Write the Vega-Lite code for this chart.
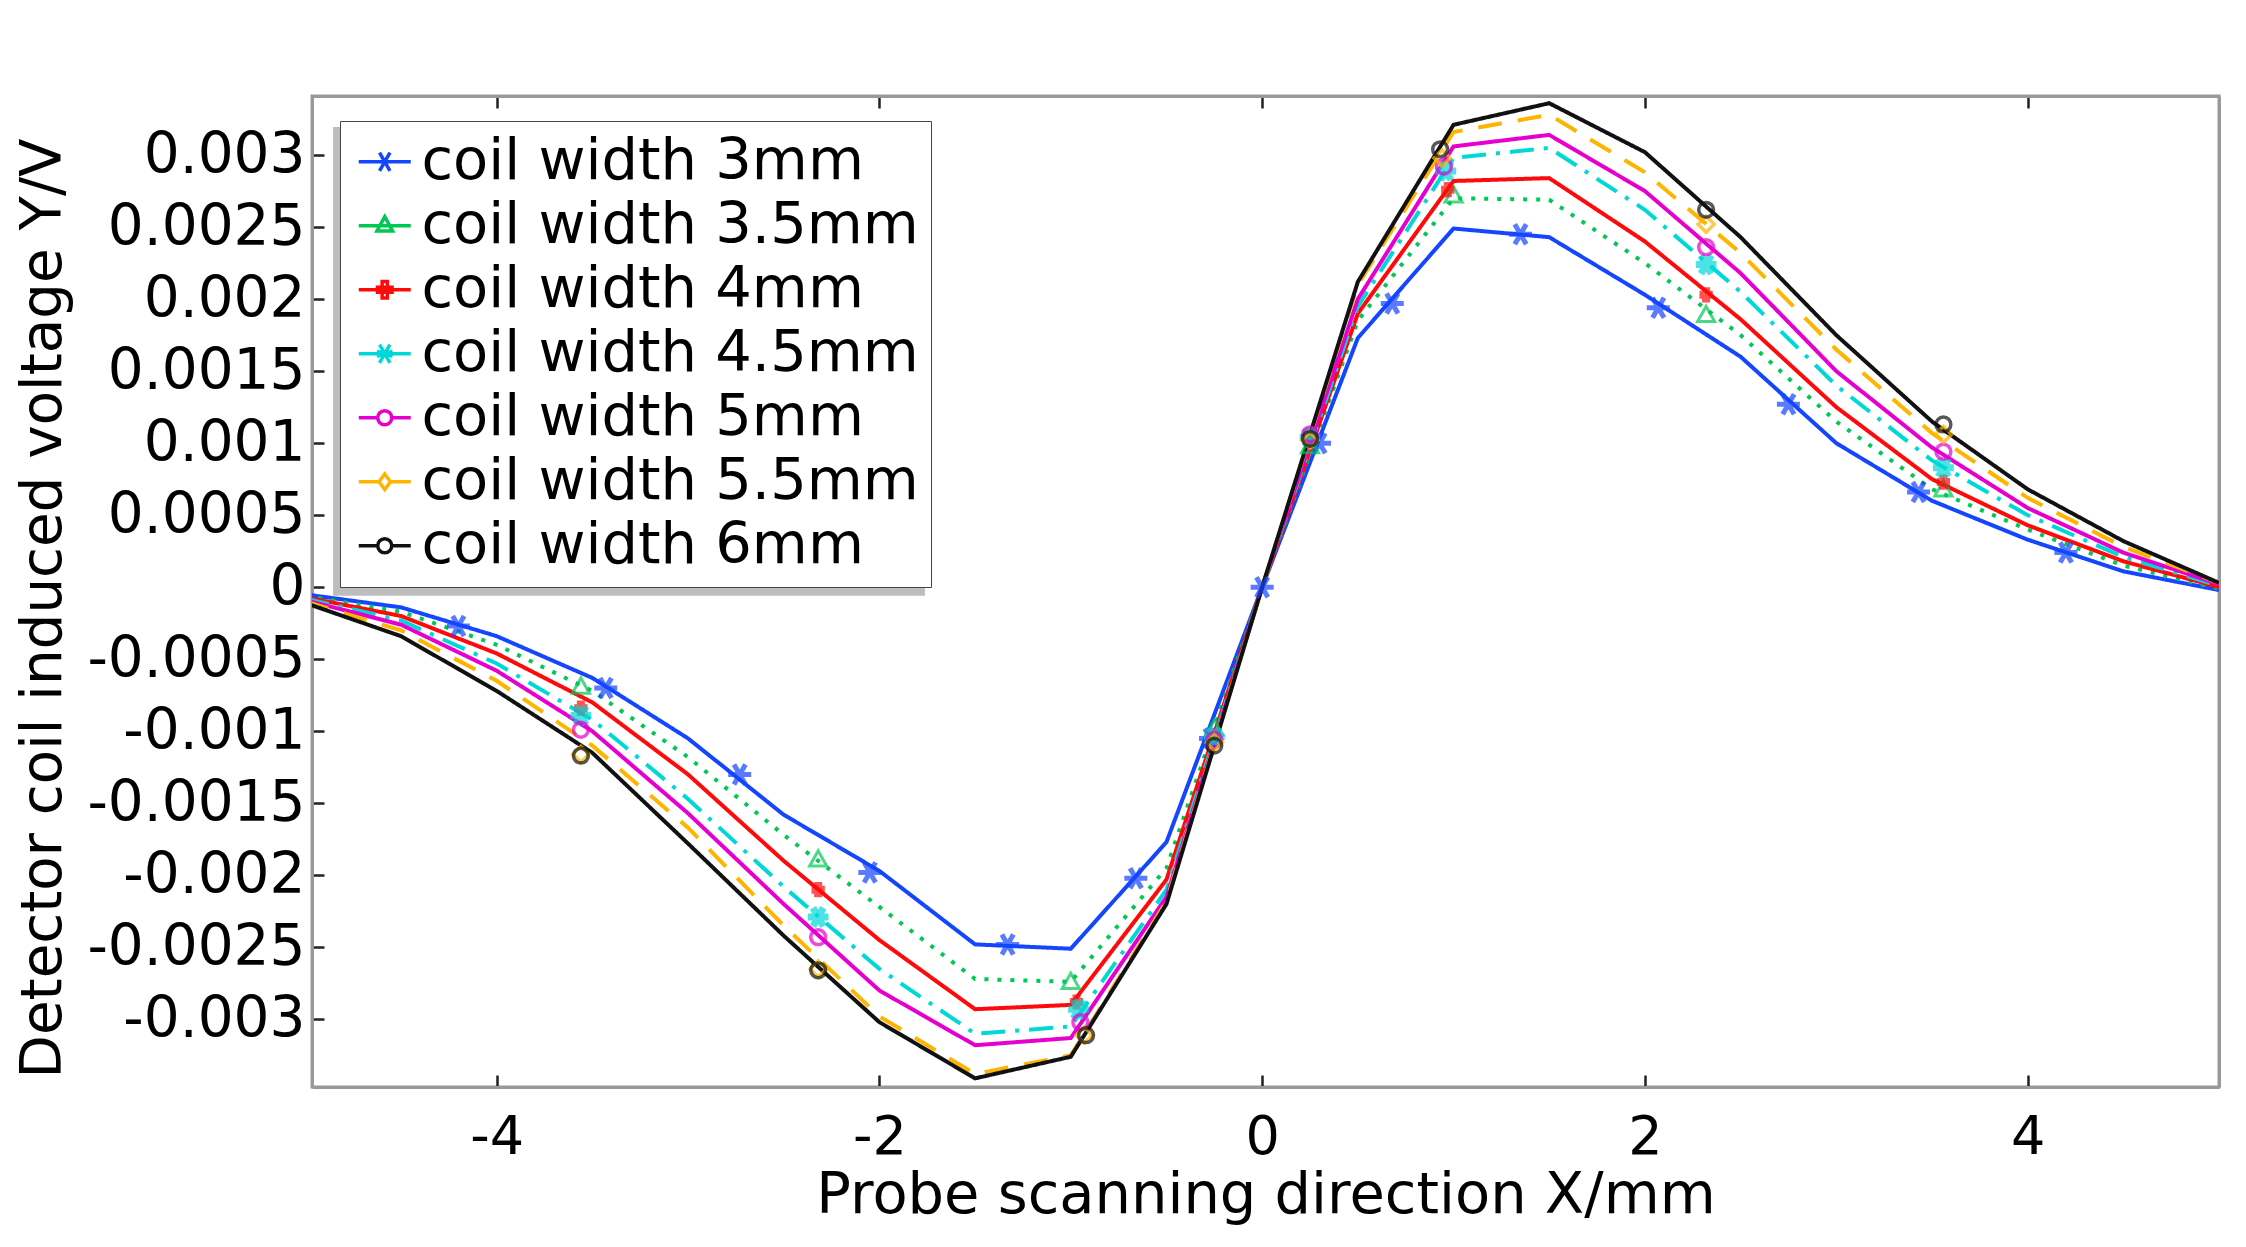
{"$schema":"https://vega.github.io/schema/vega-lite/v6.json","width":1907,"height":991,"autosize":{"type":"none"},"padding":{"left":312,"top":96,"right":27,"bottom":160},"background":"white","config":{"font":"DejaVu Sans","view":{"stroke":"#999999","strokeWidth":3}},"datasets":{"shadow":[{"x0":-4.855,"x1":-1.762,"y0":-0.00006,"y1":0.003195}],"lines":[
{"x":-5,"y":-0.00005,"s":"coil width 3mm"},{"x":-4.5,"y":-0.00014,"s":"coil width 3mm"},{"x":-4,"y":-0.00034,"s":"coil width 3mm"},{"x":-3.5,"y":-0.00063,"s":"coil width 3mm"},{"x":-3,"y":-0.00105,"s":"coil width 3mm"},{"x":-2.5,"y":-0.00158,"s":"coil width 3mm"},{"x":-2,"y":-0.00197,"s":"coil width 3mm"},{"x":-1.5,"y":-0.00248,"s":"coil width 3mm"},{"x":-1,"y":-0.00251,"s":"coil width 3mm"},{"x":-0.5,"y":-0.00177,"s":"coil width 3mm"},{"x":0,"y":0,"s":"coil width 3mm"},{"x":0.5,"y":0.00173,"s":"coil width 3mm"},{"x":1,"y":0.00249,"s":"coil width 3mm"},{"x":1.5,"y":0.00243,"s":"coil width 3mm"},{"x":2,"y":0.00203,"s":"coil width 3mm"},{"x":2.5,"y":0.0016,"s":"coil width 3mm"},{"x":3,"y":0.001,"s":"coil width 3mm"},{"x":3.5,"y":0.0006,"s":"coil width 3mm"},{"x":4,"y":0.00033,"s":"coil width 3mm"},{"x":4.5,"y":0.00011,"s":"coil width 3mm"},{"x":5,"y":-0.00002,"s":"coil width 3mm"},
{"x":-5,"y":-0.00006,"s":"coil width 3.5mm"},{"x":-4.5,"y":-0.00017,"s":"coil width 3.5mm"},{"x":-4,"y":-0.0004,"s":"coil width 3.5mm"},{"x":-3.5,"y":-0.00072,"s":"coil width 3.5mm"},{"x":-3,"y":-0.00118,"s":"coil width 3.5mm"},{"x":-2.5,"y":-0.00172,"s":"coil width 3.5mm"},{"x":-2,"y":-0.00222,"s":"coil width 3.5mm"},{"x":-1.5,"y":-0.00272,"s":"coil width 3.5mm"},{"x":-1,"y":-0.00274,"s":"coil width 3.5mm"},{"x":-0.5,"y":-0.00195,"s":"coil width 3.5mm"},{"x":0,"y":0,"s":"coil width 3.5mm"},{"x":0.5,"y":0.00185,"s":"coil width 3.5mm"},{"x":1,"y":0.0027,"s":"coil width 3.5mm"},{"x":1.5,"y":0.00269,"s":"coil width 3.5mm"},{"x":2,"y":0.00225,"s":"coil width 3.5mm"},{"x":2.5,"y":0.00175,"s":"coil width 3.5mm"},{"x":3,"y":0.00115,"s":"coil width 3.5mm"},{"x":3.5,"y":0.00068,"s":"coil width 3.5mm"},{"x":4,"y":0.0004,"s":"coil width 3.5mm"},{"x":4.5,"y":0.00015,"s":"coil width 3.5mm"},{"x":5,"y":-0.00001,"s":"coil width 3.5mm"},
{"x":-5,"y":-0.00007,"s":"coil width 4mm"},{"x":-4.5,"y":-0.0002,"s":"coil width 4mm"},{"x":-4,"y":-0.00046,"s":"coil width 4mm"},{"x":-3.5,"y":-0.0008,"s":"coil width 4mm"},{"x":-3,"y":-0.0013,"s":"coil width 4mm"},{"x":-2.5,"y":-0.0019,"s":"coil width 4mm"},{"x":-2,"y":-0.00245,"s":"coil width 4mm"},{"x":-1.5,"y":-0.00293,"s":"coil width 4mm"},{"x":-1,"y":-0.0029,"s":"coil width 4mm"},{"x":-0.5,"y":-0.00203,"s":"coil width 4mm"},{"x":0,"y":0,"s":"coil width 4mm"},{"x":0.5,"y":0.0019,"s":"coil width 4mm"},{"x":1,"y":0.00282,"s":"coil width 4mm"},{"x":1.5,"y":0.00284,"s":"coil width 4mm"},{"x":2,"y":0.0024,"s":"coil width 4mm"},{"x":2.5,"y":0.00186,"s":"coil width 4mm"},{"x":3,"y":0.00125,"s":"coil width 4mm"},{"x":3.5,"y":0.00075,"s":"coil width 4mm"},{"x":4,"y":0.00043,"s":"coil width 4mm"},{"x":4.5,"y":0.00018,"s":"coil width 4mm"},{"x":5,"y":0,"s":"coil width 4mm"},
{"x":-5,"y":-0.00008,"s":"coil width 4.5mm"},{"x":-4.5,"y":-0.00023,"s":"coil width 4.5mm"},{"x":-4,"y":-0.00053,"s":"coil width 4.5mm"},{"x":-3.5,"y":-0.00092,"s":"coil width 4.5mm"},{"x":-3,"y":-0.00147,"s":"coil width 4.5mm"},{"x":-2.5,"y":-0.00208,"s":"coil width 4.5mm"},{"x":-2,"y":-0.00265,"s":"coil width 4.5mm"},{"x":-1.5,"y":-0.0031,"s":"coil width 4.5mm"},{"x":-1,"y":-0.00305,"s":"coil width 4.5mm"},{"x":-0.5,"y":-0.0021,"s":"coil width 4.5mm"},{"x":0,"y":0,"s":"coil width 4.5mm"},{"x":0.5,"y":0.00195,"s":"coil width 4.5mm"},{"x":1,"y":0.00298,"s":"coil width 4.5mm"},{"x":1.5,"y":0.00305,"s":"coil width 4.5mm"},{"x":2,"y":0.00262,"s":"coil width 4.5mm"},{"x":2.5,"y":0.00205,"s":"coil width 4.5mm"},{"x":3,"y":0.0014,"s":"coil width 4.5mm"},{"x":3.5,"y":0.00088,"s":"coil width 4.5mm"},{"x":4,"y":0.0005,"s":"coil width 4.5mm"},{"x":4.5,"y":0.00021,"s":"coil width 4.5mm"},{"x":5,"y":0.00001,"s":"coil width 4.5mm"},
{"x":-5,"y":-0.00009,"s":"coil width 5mm"},{"x":-4.5,"y":-0.00026,"s":"coil width 5mm"},{"x":-4,"y":-0.00058,"s":"coil width 5mm"},{"x":-3.5,"y":-0.001,"s":"coil width 5mm"},{"x":-3,"y":-0.00157,"s":"coil width 5mm"},{"x":-2.5,"y":-0.0022,"s":"coil width 5mm"},{"x":-2,"y":-0.0028,"s":"coil width 5mm"},{"x":-1.5,"y":-0.00318,"s":"coil width 5mm"},{"x":-1,"y":-0.00313,"s":"coil width 5mm"},{"x":-0.5,"y":-0.00215,"s":"coil width 5mm"},{"x":0,"y":0,"s":"coil width 5mm"},{"x":0.5,"y":0.002,"s":"coil width 5mm"},{"x":1,"y":0.00306,"s":"coil width 5mm"},{"x":1.5,"y":0.00314,"s":"coil width 5mm"},{"x":2,"y":0.00275,"s":"coil width 5mm"},{"x":2.5,"y":0.00218,"s":"coil width 5mm"},{"x":3,"y":0.0015,"s":"coil width 5mm"},{"x":3.5,"y":0.00097,"s":"coil width 5mm"},{"x":4,"y":0.00055,"s":"coil width 5mm"},{"x":4.5,"y":0.00024,"s":"coil width 5mm"},{"x":5,"y":0.00002,"s":"coil width 5mm"},
{"x":-5,"y":-0.0001,"s":"coil width 5.5mm"},{"x":-4.5,"y":-0.0003,"s":"coil width 5.5mm"},{"x":-4,"y":-0.00065,"s":"coil width 5.5mm"},{"x":-3.5,"y":-0.0011,"s":"coil width 5.5mm"},{"x":-3,"y":-0.00167,"s":"coil width 5.5mm"},{"x":-2.5,"y":-0.00235,"s":"coil width 5.5mm"},{"x":-2,"y":-0.00298,"s":"coil width 5.5mm"},{"x":-1.5,"y":-0.00338,"s":"coil width 5.5mm"},{"x":-1,"y":-0.00325,"s":"coil width 5.5mm"},{"x":-0.5,"y":-0.00218,"s":"coil width 5.5mm"},{"x":0,"y":0,"s":"coil width 5.5mm"},{"x":0.5,"y":0.0021,"s":"coil width 5.5mm"},{"x":1,"y":0.00316,"s":"coil width 5.5mm"},{"x":1.5,"y":0.00328,"s":"coil width 5.5mm"},{"x":2,"y":0.00288,"s":"coil width 5.5mm"},{"x":2.5,"y":0.00232,"s":"coil width 5.5mm"},{"x":3,"y":0.00165,"s":"coil width 5.5mm"},{"x":3.5,"y":0.00107,"s":"coil width 5.5mm"},{"x":4,"y":0.00062,"s":"coil width 5.5mm"},{"x":4.5,"y":0.00028,"s":"coil width 5.5mm"},{"x":5,"y":0.00003,"s":"coil width 5.5mm"},
{"x":-5,"y":-0.00011,"s":"coil width 6mm"},{"x":-4.5,"y":-0.00034,"s":"coil width 6mm"},{"x":-4,"y":-0.00072,"s":"coil width 6mm"},{"x":-3.5,"y":-0.00115,"s":"coil width 6mm"},{"x":-3,"y":-0.00178,"s":"coil width 6mm"},{"x":-2.5,"y":-0.00242,"s":"coil width 6mm"},{"x":-2,"y":-0.00302,"s":"coil width 6mm"},{"x":-1.5,"y":-0.00341,"s":"coil width 6mm"},{"x":-1,"y":-0.00326,"s":"coil width 6mm"},{"x":-0.5,"y":-0.0022,"s":"coil width 6mm"},{"x":0,"y":0,"s":"coil width 6mm"},{"x":0.5,"y":0.00212,"s":"coil width 6mm"},{"x":1,"y":0.00321,"s":"coil width 6mm"},{"x":1.5,"y":0.00336,"s":"coil width 6mm"},{"x":2,"y":0.00302,"s":"coil width 6mm"},{"x":2.5,"y":0.00243,"s":"coil width 6mm"},{"x":3,"y":0.00175,"s":"coil width 6mm"},{"x":3.5,"y":0.00115,"s":"coil width 6mm"},{"x":4,"y":0.00068,"s":"coil width 6mm"},{"x":4.5,"y":0.00032,"s":"coil width 6mm"},{"x":5,"y":0.00003,"s":"coil width 6mm"}
],"marks":[
{"x":-4.2,"y":-0.00027,"s":"coil width 3mm"},{"x":-3.43,"y":-0.0007,"s":"coil width 3mm"},{"x":-2.73,"y":-0.0013,"s":"coil width 3mm"},{"x":-2.05,"y":-0.00198,"s":"coil width 3mm"},{"x":-1.33,"y":-0.00248,"s":"coil width 3mm"},{"x":-0.66,"y":-0.00202,"s":"coil width 3mm"},{"x":-0.27,"y":-0.00105,"s":"coil width 3mm"},{"x":0,"y":0,"s":"coil width 3mm"},{"x":0.3,"y":0.001,"s":"coil width 3mm"},{"x":0.68,"y":0.00197,"s":"coil width 3mm"},{"x":1.35,"y":0.00245,"s":"coil width 3mm"},{"x":2.07,"y":0.00194,"s":"coil width 3mm"},{"x":2.75,"y":0.00127,"s":"coil width 3mm"},{"x":3.43,"y":0.00066,"s":"coil width 3mm"},{"x":4.2,"y":0.00024,"s":"coil width 3mm"},
{"x":-3.56,"y":-0.00069,"s":"coil width 3.5mm"},{"x":-2.32,"y":-0.00189,"s":"coil width 3.5mm"},{"x":-1,"y":-0.00274,"s":"coil width 3.5mm"},{"x":-0.25,"y":-0.00098,"s":"coil width 3.5mm"},{"x":0.25,"y":0.00098,"s":"coil width 3.5mm"},{"x":1,"y":0.00272,"s":"coil width 3.5mm"},{"x":2.32,"y":0.00189,"s":"coil width 3.5mm"},{"x":3.56,"y":0.00068,"s":"coil width 3.5mm"},
{"x":-3.56,"y":-0.00084,"s":"coil width 4mm"},{"x":-2.32,"y":-0.0021,"s":"coil width 4mm"},{"x":-0.97,"y":-0.00288,"s":"coil width 4mm"},{"x":-0.25,"y":-0.00103,"s":"coil width 4mm"},{"x":0.25,"y":0.00103,"s":"coil width 4mm"},{"x":0.97,"y":0.00276,"s":"coil width 4mm"},{"x":2.32,"y":0.00203,"s":"coil width 4mm"},{"x":3.56,"y":0.00073,"s":"coil width 4mm"},
{"x":-3.56,"y":-0.00089,"s":"coil width 4.5mm"},{"x":-2.32,"y":-0.00229,"s":"coil width 4.5mm"},{"x":-0.96,"y":-0.00293,"s":"coil width 4.5mm"},{"x":-0.25,"y":-0.00104,"s":"coil width 4.5mm"},{"x":0.25,"y":0.00104,"s":"coil width 4.5mm"},{"x":0.96,"y":0.00289,"s":"coil width 4.5mm"},{"x":2.32,"y":0.00224,"s":"coil width 4.5mm"},{"x":3.56,"y":0.00083,"s":"coil width 4.5mm"},
{"x":-3.56,"y":-0.00099,"s":"coil width 5mm"},{"x":-2.32,"y":-0.00243,"s":"coil width 5mm"},{"x":-0.95,"y":-0.00302,"s":"coil width 5mm"},{"x":-0.25,"y":-0.00106,"s":"coil width 5mm"},{"x":0.25,"y":0.00106,"s":"coil width 5mm"},{"x":0.95,"y":0.00292,"s":"coil width 5mm"},{"x":2.32,"y":0.00236,"s":"coil width 5mm"},{"x":3.56,"y":0.00094,"s":"coil width 5mm"},
{"x":-3.56,"y":-0.00116,"s":"coil width 5.5mm"},{"x":-2.32,"y":-0.00265,"s":"coil width 5.5mm"},{"x":-0.93,"y":-0.00311,"s":"coil width 5.5mm"},{"x":-0.25,"y":-0.00108,"s":"coil width 5.5mm"},{"x":0.25,"y":0.00102,"s":"coil width 5.5mm"},{"x":0.94,"y":0.00298,"s":"coil width 5.5mm"},{"x":2.32,"y":0.00252,"s":"coil width 5.5mm"},{"x":3.56,"y":0.00106,"s":"coil width 5.5mm"},
{"x":-3.56,"y":-0.00117,"s":"coil width 6mm"},{"x":-2.32,"y":-0.00266,"s":"coil width 6mm"},{"x":-0.92,"y":-0.00311,"s":"coil width 6mm"},{"x":-0.25,"y":-0.0011,"s":"coil width 6mm"},{"x":0.25,"y":0.00103,"s":"coil width 6mm"},{"x":0.93,"y":0.00304,"s":"coil width 6mm"},{"x":2.32,"y":0.00262,"s":"coil width 6mm"},{"x":3.56,"y":0.00113,"s":"coil width 6mm"}
]},
"layer":[
{"data":{"name":"lines"},"mark":{"type":"line","strokeWidth":4,"clip":true},"encoding":{
"x":{"field":"x","type":"quantitative","scale":{"domain":[-4.965,5],"nice":false,"zero":false},"axis":{"values":[-4,-2,0,2,4],"labelExpr":"toString(datum.value)","grid":false,"tickSize":-12,"tickColor":"#222222","tickWidth":2.5,"domainColor":"#999999","domainWidth":3,"labelFontSize":54,"labelColor":"#000000","labelPadding":35,"labelLimit":400,"title":"Probe scanning direction X/mm","titleFontSize":57.5,"titleFontWeight":"normal","titleColor":"#000000","titlePadding":3}},
"y":{"field":"y","type":"quantitative","scale":{"domain":[-0.00347,0.00341],"nice":false,"zero":false},"axis":{"values":[-0.003,-0.0025,-0.002,-0.0015,-0.001,-0.0005,0,0.0005,0.001,0.0015,0.002,0.0025,0.003],"labelExpr":"toString(datum.value)","grid":false,"tickSize":-12,"tickColor":"#222222","tickWidth":2.5,"domainColor":"#999999","domainWidth":3,"labelFontSize":56.5,"labelColor":"#000000","labelPadding":19,"labelLimit":400,"title":"Detector coil induced voltage Y/V","titleFontSize":56.3,"titleFontWeight":"normal","titleColor":"#000000","titleX":-269,"titleY":512,"titleBaseline":"middle"}},
"color":{"field":"s","type":"nominal","legend":null,"scale":{"domain":["coil width 3mm","coil width 3.5mm","coil width 4mm","coil width 4.5mm","coil width 5mm","coil width 5.5mm","coil width 6mm"],"range":["#1446ff","#00c853","#ff0a0a","#00d8d8","#e600d0","#ffb400","#111111"]}},
"strokeDash":{"field":"s","type":"nominal","legend":null,"sort":null,"scale":{"domain":["coil width 3mm","coil width 3.5mm","coil width 4mm","coil width 4.5mm","coil width 5mm","coil width 5.5mm","coil width 6mm"],"range":[[1,0],[4,9],[1,0],[24,10,4,10],[1,0],[24,16],[1,0]]}}}},
{"data":{"name":"marks"},"mark":{"type":"point","filled":false,"clip":true},"encoding":{
"x":{"field":"x","type":"quantitative","axis":null},"y":{"field":"y","type":"quantitative","axis":null},
"size":{"field":"s","type":"nominal","legend":null,"scale":{"type":"ordinal","domain":["coil width 3mm","coil width 3.5mm","coil width 4mm","coil width 4.5mm","coil width 5mm","coil width 5.5mm","coil width 6mm"],"range":[529,361,361,529,220,260,220]}},
"strokeWidth":{"field":"s","type":"nominal","legend":null,"scale":{"type":"ordinal","domain":["coil width 3mm","coil width 3.5mm","coil width 4mm","coil width 4.5mm","coil width 5mm","coil width 5.5mm","coil width 6mm"],"range":[5,3,8,7,3.5,3.5,3.5]}},
"color":{"field":"s","type":"nominal","legend":null,"scale":{"domain":["coil width 3mm","coil width 3.5mm","coil width 4mm","coil width 4.5mm","coil width 5mm","coil width 5.5mm","coil width 6mm"],"range":["#1446ff","#00c853","#ff0a0a","#00d8d8","#e600d0","#ffb400","#111111"]}},
"shape":{"field":"s","type":"nominal","legend":null,"scale":{"domain":["coil width 3mm","coil width 3.5mm","coil width 4mm","coil width 4.5mm","coil width 5mm","coil width 5.5mm","coil width 6mm"],"range":["M-1,0L1,0M-0.5,-0.87L0.5,0.87M-0.5,0.87L0.5,-0.87","M0,-0.9L0.9,0.7L-0.9,0.7Z","M-0.7,0L0.7,0M0,-0.8L0,0.8","M-0.9,0L0.9,0M-0.45,-0.8L0.45,0.8M-0.45,0.8L0.45,-0.8","circle","diamond","circle"]}}}},
{"data":{"name":"shadow"},"mark":{"type":"rect","color":"#bdbdbd"},"encoding":{
"x":{"field":"x0","type":"quantitative","axis":null},"x2":{"field":"x1"},
"y":{"field":"y0","type":"quantitative","axis":null},"y2":{"field":"y1"}}},
{"data":{"name":"marks"},"mark":{"type":"point","filled":false,"strokeWidth":3.5,"opacity":0},"encoding":{
"x":{"field":"x","type":"quantitative","axis":null},"y":{"field":"y","type":"quantitative","axis":null},
"color":{"field":"s","type":"nominal","scale":{"domain":["coil width 3mm","coil width 3.5mm","coil width 4mm","coil width 4.5mm","coil width 5mm","coil width 5.5mm","coil width 6mm"],"range":["#1446ff","#00c853","#ff0a0a","#00d8d8","#e600d0","#ffb400","#111111"]},"legend":{"title":null,"orient":"none","legendX":28,"legendY":25,"fillColor":"white","strokeColor":"#444444","padding":12,"rowPadding":5,"labelFontSize":57.5,"labelColor":"#000000","labelOffset":8,"labelLimit":700,"symbolOffset":4,"symbolOpacity":1,"symbolSize":2704,"symbolStrokeWidth":3.5}},
"shape":{"field":"s","type":"nominal","scale":{"domain":["coil width 3mm","coil width 3.5mm","coil width 4mm","coil width 4.5mm","coil width 5mm","coil width 5.5mm","coil width 6mm"],"range":["M-1,0L1,0M-0.2,-0.35L0.2,0.35M-0.2,0.35L0.2,-0.35M-0.4,0L0.4,0","M-1,0L1,0M0,-0.35L0.3,0.2L-0.3,0.2Z","M-1,0L1,0M-0.28,-0.1L0.28,-0.1L0.28,0.1L-0.28,0.1ZM-0.1,-0.32L0.1,-0.32L0.1,0.32L-0.1,0.32Z","M-1,0L1,0M-0.2,-0.35L0.2,0.35M-0.2,0.35L0.2,-0.35M-0.3,-0.1L0.3,0.1M-0.3,0.1L0.3,-0.1","M-1,0L-0.27,0M0.27,0L1,0M-0.27,0A0.27,0.27,0,1,1,0.27,0A0.27,0.27,0,1,1,-0.27,0Z","M-1,0L-0.22,0M0.22,0L1,0M0,-0.3L0.22,0L0,0.3L-0.22,0Z","M-1,0L-0.27,0M0.27,0L1,0M-0.27,0A0.27,0.27,0,1,1,0.27,0A0.27,0.27,0,1,1,-0.27,0Z"]},"legend":{"title":null,"orient":"none","legendX":28,"legendY":25,"fillColor":"white","strokeColor":"#444444","padding":12,"rowPadding":5,"labelFontSize":57.5,"labelColor":"#000000","labelOffset":8,"labelLimit":700,"symbolOffset":4,"symbolOpacity":1,"symbolSize":2704,"symbolStrokeWidth":3.5}}}},
{"data":{"name":"lines"},"mark":{"type":"line","opacity":0},"encoding":{
"x":{"field":"x","type":"quantitative","axis":{"orient":"top","values":[-4,-2,0,2,4],"labels":false,"title":null,"grid":false,"tickSize":-12,"tickColor":"#222222","tickWidth":2.5,"domainColor":"#999999","domainWidth":3}},
"y":{"field":"y","type":"quantitative","axis":{"orient":"right","values":[0],"labels":false,"title":null,"grid":false,"ticks":false,"domainColor":"#999999","domainWidth":3}},
"detail":{"field":"s"}}}
],
"resolve":{"scale":{"color":"independent","shape":"independent","size":"independent","strokeDash":"independent","strokeWidth":"independent"},"axis":{"x":"independent","y":"independent"}}}
